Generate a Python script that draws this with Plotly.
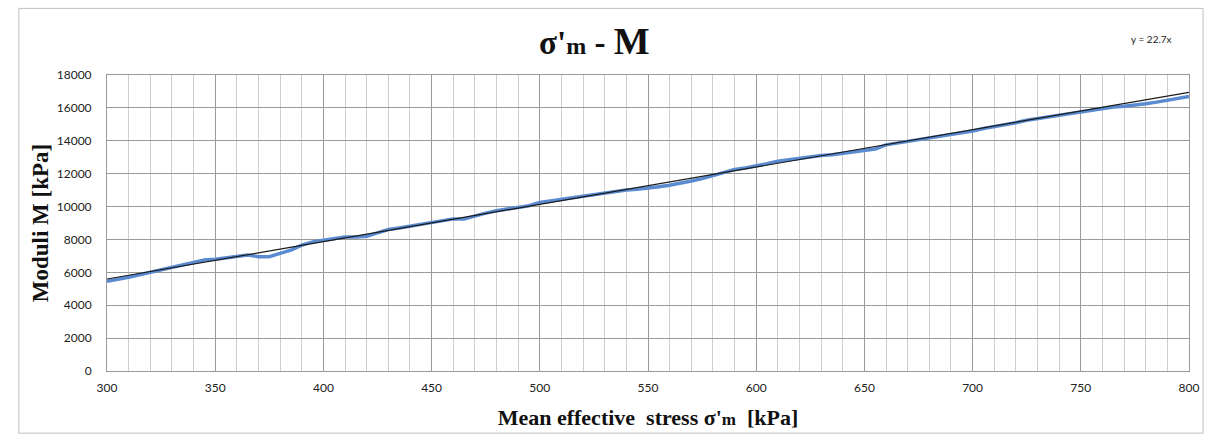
import numpy as np
import plotly.graph_objects as go

# Mean effective stress sigma'm [kPa]
stress = [300, 305, 310, 315, 320, 325, 330, 335, 340, 345, 350, 355, 360, 365, 370,
          375, 380, 385, 390, 395, 400, 405, 410, 415, 420, 425, 430, 435, 440, 445,
          450, 455, 460, 465, 470, 475, 480, 485, 490, 495, 500, 505, 510, 515, 520,
          525, 530, 535, 540, 545, 550, 555, 560, 565, 570, 575, 580, 585, 590, 595,
          600, 605, 610, 615, 620, 625, 630, 635, 640, 645, 650, 655, 660, 665, 670,
          675, 680, 685, 690, 695, 700, 705, 710, 715, 720, 725, 730, 735, 740, 745,
          750, 755, 760, 765, 770, 775, 780, 785, 790, 795, 800]
# Moduli M [kPa]
moduli = [5450, 5550, 5700, 5850, 6000, 6200, 6350, 6450, 6600, 6750, 6800, 6900, 7000, 7050, 6950,
          6950, 7150, 7350, 7650, 7850, 7950, 8050, 8150, 8150, 8200, 8400, 8600, 8700, 8800, 8950,
          9050, 9150, 9250, 9250, 9450, 9600, 9750, 9850, 9900, 10050, 10250, 10350, 10400, 10500, 10600,
          10750, 10850, 10950, 11000, 11050, 11100, 11200, 11300, 11400, 11550, 11700, 11900, 12100, 12250, 12350,
          12450, 12600, 12750, 12850, 12950, 13000, 13100, 13150, 13250, 13350, 13450, 13500, 13750, 13850, 13950,
          14050, 14150, 14250, 14350, 14450, 14600, 14750, 14850, 14950, 15100, 15250, 15350, 15450, 15550, 15650,
          15800, 15900, 16000, 16050, 16100, 16150, 16250, 16350, 16450, 16550, 16700]

# Linear trend line
trend_slope = 22.7
trend_intercept = -1215
trend_x = [300, 800]
trend_y = [trend_slope * v + trend_intercept for v in trend_x]

x_ticks = [300, 350, 400, 450, 500, 550, 600, 650, 700, 750, 800]
y_ticks = [0, 2000, 4000, 6000, 8000, 10000, 12000, 14000, 16000, 18000]

fig = go.Figure()
fig.add_trace(go.Scatter(x=stress, y=moduli, mode="lines",
                         line=dict(color="#5A8AD0", width=3.5), showlegend=False))
fig.add_trace(go.Scatter(x=trend_x, y=trend_y, mode="lines",
                         line=dict(color="#1a1a1a", width=1.2), showlegend=False))

tick_font = dict(family="Lato, Open Sans, sans-serif", size=12, color="#222222")
serif = "Liberation Serif, Times New Roman, serif"

fig.update_layout(
    width=1213, height=443,
    margin=dict(l=107, r=24, t=75, b=72),
    paper_bgcolor="white", plot_bgcolor="white",
    title=dict(
        text="<b><span style='font-size:33px'>σ'</span><span style='font-size:24px'>m</span>"
             "<span style='font-size:33px'> - </span><span style='font-size:38px'>M</span></b>",
        x=0.49, xanchor="center", y=0.905, yanchor="middle",
        font=dict(family=serif, size=33, color="#111111")),
    xaxis=dict(
        range=[300, 800], tickvals=x_ticks, ticktext=[str(v) for v in x_ticks],
        showgrid=True, gridcolor="#9a9a9a", gridwidth=1,
        minor=dict(dtick=10, tick0=300, showgrid=True, gridcolor="#cfcfcf", gridwidth=1),
        showline=True, linecolor="#9a9a9a", mirror=True, zeroline=False,
        ticks="", tickfont=tick_font, ticklabelstandoff=6,
        title=dict(
            text="<b>Mean effective  stress σ'<span style='font-size:17px'>m</span>  [kPa]</b>",
            font=dict(family=serif, size=22, color="#111111"), standoff=15),
    ),
    yaxis=dict(
        range=[0, 18000], tickvals=y_ticks, ticktext=[str(v) for v in y_ticks],
        showgrid=True, gridcolor="#9a9a9a", gridwidth=1,
        showline=True, linecolor="#9a9a9a", mirror=True, zeroline=False,
        ticks="", tickfont=tick_font, ticklabelstandoff=12,
        title=dict(text="<b>Moduli M [kPa]</b>",
                   font=dict(family=serif, size=23, color="#111111"), standoff=1),
    ),
)

fig.add_annotation(text="y = 22.7x", xref="paper", yref="paper",
                   x=1.0, y=1.12, xanchor="center", yanchor="middle", showarrow=False,
                   xshift=-38,
                   font=dict(family="Lato, Open Sans, sans-serif", size=10, color="#222222"))

# Outer chart border
fig.add_shape(type="rect", xref="paper", yref="paper",
              x0=-0.0815, x1=1.013, y0=-0.21, y1=1.225,
              line=dict(color="#bfbfbf", width=1), layer="below")

fig.write_html("out.html")
